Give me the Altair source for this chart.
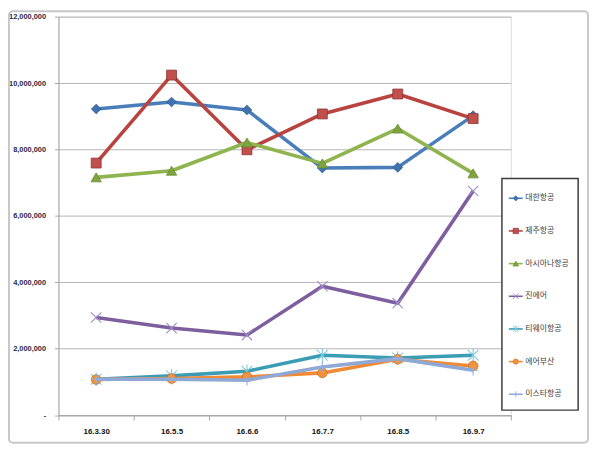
import altair as alt
import pandas as pd

# ---- data ----
dates = ["16.3.30", "16.5.5", "16.6.6", "16.7.7", "16.8.5", "16.9.7"]
airlines = ["대한항공", "제주항공", "아시아나항공", "진에어", "티웨이항공", "에어부산", "이스타항공"]
korean_air = [9220000, 9430000, 9190000, 7440000, 7460000, 9020000]
jeju_air = [7590000, 10240000, 7990000, 9070000, 9670000, 8930000]
asiana = [7160000, 7360000, 8210000, 7580000, 8630000, 7280000]
jin_air = [2940000, 2620000, 2410000, 3880000, 3370000, 6750000]
tway = [1080000, 1180000, 1320000, 1800000, 1720000, 1800000]
air_busan = [1070000, 1100000, 1150000, 1270000, 1680000, 1480000]
eastar = [1080000, 1080000, 1050000, 1450000, 1700000, 1350000]
y_ticks = [0, 2000000, 4000000, 6000000, 8000000, 10000000, 12000000]

series_values = [korean_air, jeju_air, asiana, jin_air, tway, air_busan, eastar]
colors = ["#4A7EBB", "#B8433F", "#8FB34F", "#7D5FA0", "#3A9DB4", "#F08A36", "#90A8D6"]
marker_fill = ["#3F72B0", "#C0504D", "#7FA33F", "#A08CC8", "#7FCBDD", "#F39237", "#8FB0E0"]
marker_stroke = ["#2F5C94", "#8E3431", "#6A8C33", "#A08CC8", "#7FCBDD", "#C7702A", "#8FB0E0"]
X_PATH = "M-1,-1L1,1M-1,1L1,-1"
STAR_PATH = "M-1,-1L1,1M-1,1L1,-1M0,-1.25L0,1.25"
PLUS_PATH = "M-1,0L1,0M0,-1L0,1"
shapes = ["diamond", "square", "triangle-up", X_PATH, STAR_PATH, "circle", PLUS_PATH]
filled = [True, True, True, False, False, True, False]
sizes = [95, 100, 110, 110, 120, 95, 110]
legend_sizes = [28, 30, 34, 34, 36, 28, 34]

rows = []
for name, vals in zip(airlines, series_values):
    for d, v in zip(dates, vals):
        rows.append({"date": d, "airline": name, "value": v})
df = pd.DataFrame(rows)
legend_df = pd.DataFrame({"airline": airlines})

W, H = 457, 402.5

x_enc = alt.X(
    "date:O", sort=dates, title=None,
    scale=alt.Scale(type="band", domain=dates, paddingInner=0, paddingOuter=0),
    axis=alt.Axis(
        tickBand="extent", labelAngle=0, domainColor="#A6A6A6", tickColor="#A6A6A6",
        tickSize=5, labelFont="Liberation Sans", labelFontSize=8, labelFontWeight="bold",
        labelColor="#111111", labelPadding=8, grid=False,
    ),
)

y_enc = alt.Y(
    "value:Q", title=None,
    scale=alt.Scale(domain=[0, 12000000], nice=False, zero=True),
    axis=alt.Axis(
        values=y_ticks, title=None, grid=True, gridColor="#B5B5B5", gridWidth=1,
        domainColor="#A6A6A6", tickColor="#A6A6A6", tickSize=4,
        labelExpr="datum.value == 0 ? '-' : format(datum.value, ',')",
        labelFont="Liberation Sans", labelFontSize=7.5, labelFontWeight="bold",
        labelColor="#1F2A48", labelPadding=9,
    ),
)

base = alt.Chart(df)

frame = alt.Chart(legend_df).mark_rect(
    fill="white", fillOpacity=0, stroke="#C8C8C8", strokeWidth=2, cornerRadius=4
).encode(
    x=alt.value(-50), x2=alt.value(535), y=alt.value(-5.5), y2=alt.value(430.5)
).transform_filter(alt.datum.airline == airlines[0])

main_layers = []
for i, name in enumerate(airlines):
    sub = base.transform_filter(alt.datum.airline == name)
    line = sub.mark_line(color=colors[i], strokeWidth=3.6, strokeJoin="round").encode(
        x=x_enc, y=y_enc
    )
    if filled[i]:
        pt = sub.mark_point(
            shape=shapes[i], filled=True, size=sizes[i], fill=marker_fill[i],
            stroke=marker_stroke[i], strokeWidth=0.8, opacity=1,
        )
    else:
        pt = sub.mark_point(
            shape=shapes[i], filled=False, size=sizes[i], stroke=marker_stroke[i],
            strokeWidth=1.1, opacity=1,
        )
    pt = pt.encode(x=x_enc, y=y_enc)
    main_layers += [line, pt]

main = alt.layer(*main_layers)

# ---- legend drawn as its own layer ----
leg_y = alt.Y(
    "airline:N", sort=airlines, axis=None,
    scale=alt.Scale(type="point", domain=airlines, range=[183.5, 381.5], padding=0),
)
color_scale = alt.Scale(domain=airlines, range=colors)

leg_box = alt.Chart(legend_df).mark_rect(
    fill="white", stroke="#3C3C3C", strokeWidth=1.5
).encode(
    x=alt.value(448), x2=alt.value(525), y=alt.value(163.5), y2=alt.value(397.5)
).transform_filter(alt.datum.airline == airlines[0])

leg_lines = alt.Chart(legend_df).mark_rule(strokeWidth=1.6).encode(
    x=alt.value(455), x2=alt.value(469), y=leg_y,
    color=alt.Color("airline:N", scale=color_scale, legend=None),
)

leg_layers = [leg_box, leg_lines]
for i, name in enumerate(airlines):
    sub = alt.Chart(legend_df).transform_filter(alt.datum.airline == name)
    if filled[i]:
        m = sub.mark_point(shape=shapes[i], filled=True, size=legend_sizes[i],
                           fill=marker_fill[i], stroke=marker_stroke[i], strokeWidth=0.6, opacity=1)
    else:
        m = sub.mark_point(shape=shapes[i], filled=False, size=legend_sizes[i],
                           stroke=marker_stroke[i], strokeWidth=0.9, opacity=1)
    leg_layers.append(m.encode(x=alt.value(462), y=leg_y))

leg_text = alt.Chart(legend_df).mark_text(
    align="left", baseline="middle", font="Noto Sans CJK KR", fontSize=8, color="#404040"
).encode(x=alt.value(471.5), y=leg_y, text="airline:N")
leg_layers.append(leg_text)

legend = alt.layer(*leg_layers)

chart = alt.layer(frame, main, legend).resolve_scale(y="independent", color="independent").properties(
    width=W, height=H,
    autosize=alt.AutoSizeParams(type="none"),
    padding={"left": 51, "top": 6.5, "right": 82, "bottom": 29},
).configure_view(stroke=None).configure(background="white")

chart.save("out.html", embed_options={"renderer": "svg", "actions": False})
